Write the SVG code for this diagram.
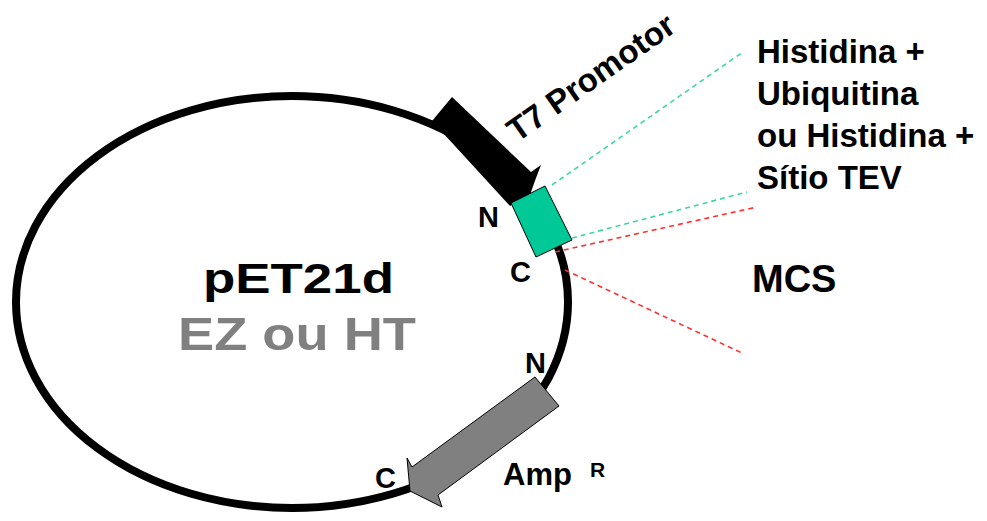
<svg xmlns="http://www.w3.org/2000/svg" width="987" height="521" viewBox="0 0 987 521">
<style>
text{font-family:"Liberation Sans",Arial,sans-serif;font-weight:bold;fill:#000}
.teal{stroke:#3ad6a8;stroke-width:1.6;stroke-dasharray:5 4;fill:none}
.red{stroke:#ff3030;stroke-width:1.6;stroke-dasharray:5 4;fill:none}
.lbl{font-size:29px}
.side{font-size:33px}
</style>
<rect width="987" height="521" fill="#fff"/>
<g id="plasmid">
<ellipse cx="292" cy="302" rx="276" ry="206" fill="none" stroke="#000" stroke-width="8"/>
<text x="203" y="293" font-size="43" textLength="191" lengthAdjust="spacingAndGlyphs">pET21d</text>
<text x="178" y="350" font-size="46" textLength="238" lengthAdjust="spacingAndGlyphs" style="fill:#808080">EZ ou HT</text>
</g>
<g id="connectors">
<line class="teal" x1="552" y1="185" x2="743" y2="52"/>
<line class="teal" x1="572" y1="238" x2="747" y2="192"/>
<line class="red" x1="555" y1="252" x2="757" y2="207"/>
<line class="red" x1="565" y1="270" x2="742" y2="353"/>
</g>
<g id="t7-promoter">
<polygon points="452,97 531,172 541,165 536,178 531,192 510,206 432,121" fill="#000"/>
<text x="517" y="143" font-size="33" transform="rotate(-35 517 143)">T7 Promotor</text>
</g>
<g id="tag">
<polygon points="511,203 545,186 572,240 536,257" fill="#00c896" stroke="#000" stroke-width="1"/>
<text class="lbl" x="478" y="227">N</text>
<text class="lbl" x="510" y="282">C</text>
</g>
<g id="amp">
<polygon points="535,377 559,406 438,495 442,507 410,491 407,458 412,467" fill="#808080" stroke="#000" stroke-width="1"/>
<text class="lbl" x="525" y="373">N</text>
<text class="lbl" x="375" y="488">C</text>
<text x="503" y="485" font-size="31">Amp</text>
<text x="590" y="477" font-size="21">R</text>
</g>
<g id="tag-label">
<text class="side" x="757" y="63">Histidina +</text>
<text class="side" x="757" y="105">Ubiquitina</text>
<text class="side" x="757" y="147">ou Histidina +</text>
<text class="side" x="757" y="189">Sítio TEV</text>
</g>
<g id="mcs">
<text x="752" y="292" font-size="38">MCS</text>
</g>
</svg>
